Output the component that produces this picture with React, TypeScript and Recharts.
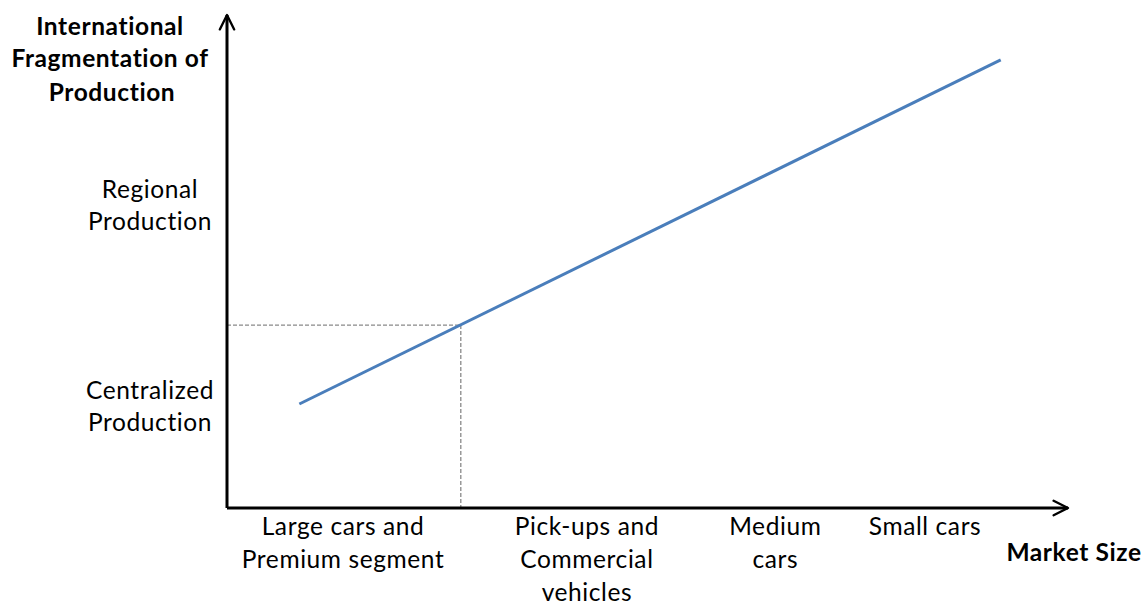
import React from "react";
import {
  LineChart,
  Line,
  XAxis,
  YAxis,
  ReferenceLine,
  Customized,
} from "recharts";

// conceptual diagram: arbitrary 0-100 units on both axes
const marketSize = [8.6, 92.0];
const fragmentation = [21.1, 90.9];

const segmentTicks = [13.8, 42.8, 65.2, 83.0];
const segmentLabels = [
  ["Large cars and", "Premium segment"],
  ["Pick-ups and", "Commercial", "vehicles"],
  ["Medium", "cars"],
  ["Small cars"],
];

const levelTicks = [20.7, 61.5];
const levelLabels = [
  ["Centralized", "Production"],
  ["Regional", "Production"],
];

const threshold = { x: 27.8, y: 37.1 };

const data = marketSize.map((x, i) => ({ x, y: fragmentation[i] }));

const FONT = "Lato, 'Open Sans', sans-serif";
const FS = 24.5;
const LS = 0.6;
const LINE_H = 33;

function SegmentTick(props: any) {
  const { x, y, payload } = props;
  const idx = segmentTicks.indexOf(payload.value);
  const lines = segmentLabels[idx] || [];
  return (
    <text x={x} y={y} textAnchor="middle" fontFamily={FONT} fontSize={FS} letterSpacing={LS} fill="#000">
      {lines.map((l, i) => (
        <tspan key={i} x={x} dy={i === 0 ? 19 : LINE_H}>
          {l}
        </tspan>
      ))}
    </text>
  );
}

function LevelTick(props: any) {
  const { y, payload } = props;
  const idx = levelTicks.indexOf(payload.value);
  const lines = levelLabels[idx] || [];
  const cx = 150;
  return (
    <text x={cx} y={y} textAnchor="middle" fontFamily={FONT} fontSize={FS} letterSpacing={LS} fill="#000">
      {lines.map((l, i) => (
        <tspan key={i} x={cx} dy={i === 0 ? -7 : 32}>
          {l}
        </tspan>
      ))}
    </text>
  );
}

function Titles() {
  return (
    <g fontFamily={FONT} fontWeight={700} fontSize={FS} letterSpacing={LS} fill="#000">
      <text x={110} y={35} textAnchor="middle">International</text>
      <text x={110} y={67} textAnchor="middle">Fragmentation of</text>
      <text x={112} y={101} textAnchor="middle">Production</text>
      <text x={1074} y={561} textAnchor="middle">Market Size</text>
    </g>
  );
}

export default function App() {
  return (
    <div style={{ position: "absolute", left: 0, top: 0, background: "#fff" }}>
      <LineChart
        width={1146}
        height={603}
        data={data}
        margin={{ top: 15, right: 78, bottom: 0, left: 0 }}
      >
        <defs>
          <marker
            id="chev"
            viewBox="0 0 10 10"
            refX="9"
            refY="5"
            markerWidth="6"
            markerHeight="6"
            markerUnits="strokeWidth"
            orient="auto-start-reverse"
          >
            <path d="M1,1 L9,5 L1,9" fill="none" stroke="#000" strokeWidth={1.3} strokeLinecap="round" strokeLinejoin="round" />
          </marker>
        </defs>
        <XAxis
          type="number"
          dataKey="x"
          domain={[0, 100]}
          ticks={segmentTicks}
          tick={<SegmentTick />}
          tickLine={false}
          axisLine={{ stroke: "#000", strokeWidth: 3, markerEnd: "url(#chev)" } as any}
          height={95}
          interval={0}
        />
        <YAxis
          type="number"
          dataKey="y"
          domain={[0, 100]}
          ticks={levelTicks}
          tick={<LevelTick />}
          tickLine={false}
          axisLine={{ stroke: "#000", strokeWidth: 3, markerStart: "url(#chev)" } as any}
          width={227}
          interval={0}
        />
        <ReferenceLine
          segment={[
            { x: 0, y: threshold.y },
            { x: threshold.x, y: threshold.y },
          ]}
          stroke="#898989"
          strokeWidth={1.3}
          strokeDasharray="4 2"
        />
        <ReferenceLine
          segment={[
            { x: threshold.x, y: threshold.y },
            { x: threshold.x, y: 0 },
          ]}
          stroke="#898989"
          strokeWidth={1.3}
          strokeDasharray="4 2"
        />
        <Line
          type="linear"
          dataKey="y"
          stroke="#4a7ebb"
          strokeWidth={3}
          dot={false}
          isAnimationActive={false}
        />
        <Customized component={Titles} />
      </LineChart>
    </div>
  );
}
